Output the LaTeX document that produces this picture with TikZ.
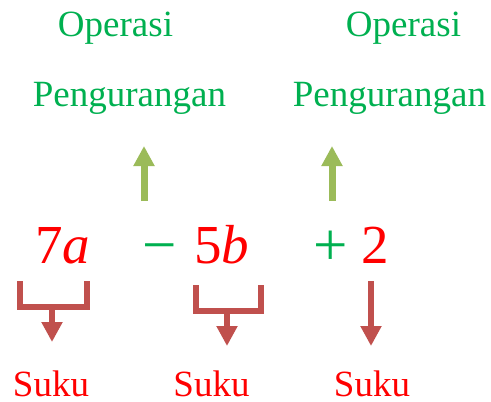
\documentclass[tikz,border=0pt]{standalone}
\usepackage{fontspec}
\setmainfont{Liberation Serif}
\usetikzlibrary{arrows.meta}
\definecolor{opgreen}{HTML}{00B050}
\definecolor{termred}{HTML}{FF0000}
\definecolor{arrgreen}{HTML}{9BBB59}
\definecolor{arrred}{HTML}{C0504D}
\tikzset{
  label/.style={inner sep=0pt, anchor=base, font=\fontsize{37}{40}\selectfont},
  oplabel/.style={label, text=opgreen},
  sukulabel/.style={label, text=termred, text depth=0pt},
  exprpart/.style={inner sep=0pt, anchor=base, font=\fontsize{55}{60}\selectfont},
  signpart/.style={inner sep=0pt, anchor=base, text=opgreen,
    font=\fontsize{61}{66}\selectfont},
  uparrow/.style={draw=arrgreen, line width=7pt,
    -{Triangle[width=20pt,length=20pt]}},
  bracketline/.style={draw=arrred, line width=6pt, line join=miter},
  downarrow/.style={draw=arrred, line width=6pt,
    -{Triangle[width=20pt,length=20pt]}},
}
\begin{document}
\begin{tikzpicture}[x=1pt,y=-1pt]
  \useasboundingbox (0,0) rectangle (491,402);

  % operation labels
  \node[oplabel] (op1) at (115.5,36) {Operasi};
  \node[oplabel] (pg1) at (129.5,106) {Pengurangan};
  \node[oplabel] (op2) at (403.5,36) {Operasi};
  \node[oplabel] (pg2) at (389.5,106) {Pengurangan};

  % the expression 7a - 5b + 2
  \node[exprpart, text=termred] (t1) at (63,263) {7\textit{a}};
  \node[signpart] (m1) at (160,265) {−};
  \node[exprpart, text=termred] (t2) at (221.5,263) {5\textit{b}};
  \node[signpart] (p1) at (330.5,265) {+};
  \node[exprpart, text=termred] (t3) at (375.5,263) {2};

  % arrows up to the operation labels
  \coordinate (g1s) at (144,201);
  \coordinate (g1e) at (144,146);
  \coordinate (g2s) at (332,201);
  \coordinate (g2e) at (332,146);
  \draw[uparrow] (g1s) -- (g1e);
  \draw[uparrow] (g2s) -- (g2e);

  % term labels
  \node[sukulabel] (s1) at (51,396) {Suku};
  \node[sukulabel] (s2) at (211.5,396) {Suku};
  \node[sukulabel] (s3) at (372,396) {Suku};

  % bracket under 7a
  \coordinate (b1l) at (20,281);
  \coordinate (b1r) at (86.5,281);
  \coordinate (b1m) at (52,306.5);
  \coordinate (b1t) at (52,342);
  \draw[bracketline] (b1l) |- (b1m) -| (b1r);
  \draw[downarrow] (b1m) -- (b1t);

  % bracket under 5b
  \coordinate (b2l) at (195.5,285);
  \coordinate (b2r) at (260.5,285);
  \coordinate (b2m) at (227,310.5);
  \coordinate (b2t) at (227,346);
  \draw[bracketline] (b2l) |- (b2m) -| (b2r);
  \draw[downarrow] (b2m) -- (b2t);

  % arrow under 2
  \coordinate (a3s) at (371,281);
  \coordinate (a3t) at (371,346);
  \draw[downarrow] (a3s) -- (a3t);
\end{tikzpicture}
\end{document}
